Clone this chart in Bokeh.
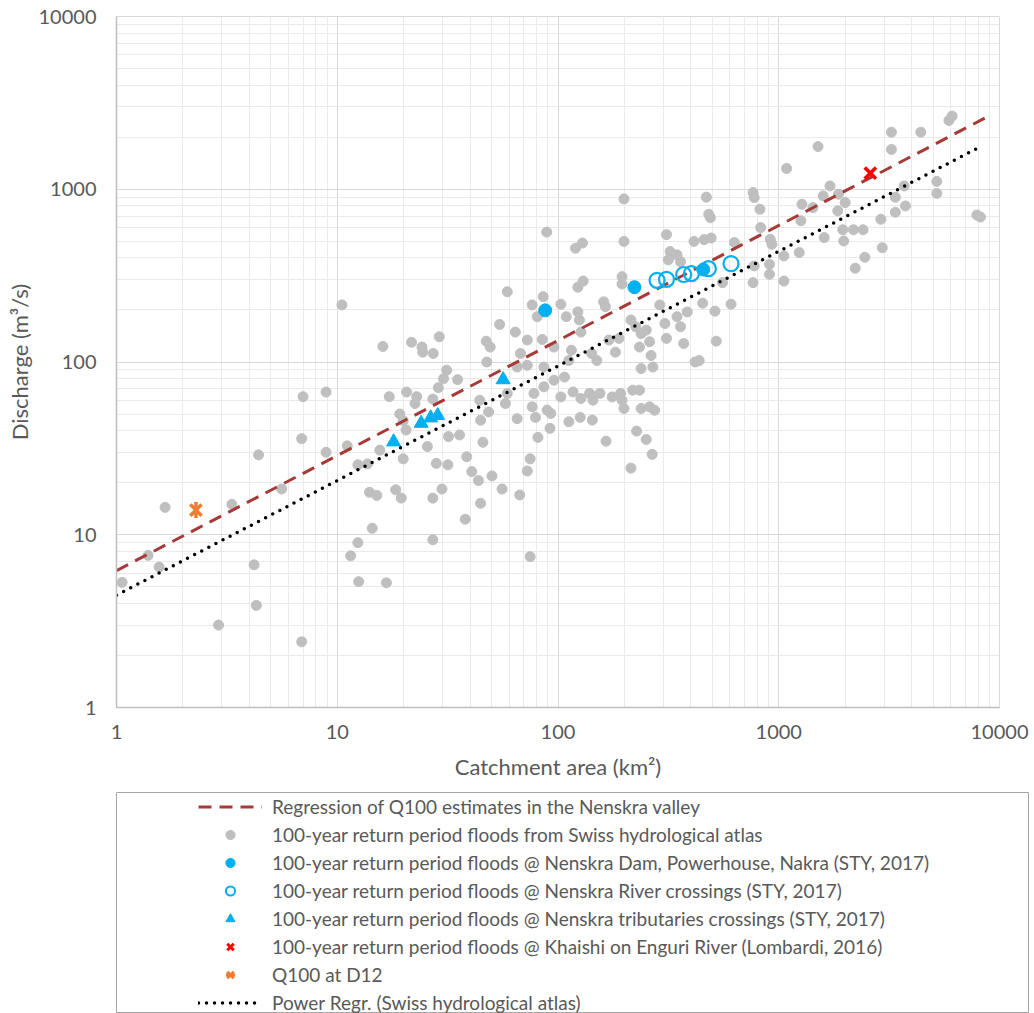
import math
from bokeh.plotting import figure
from bokeh.models import FixedTicker, Legend, LegendItem, Range1d
from bokeh.layouts import column, row
from bokeh.embed import file_html
from bokeh.resources import INLINE

# ---------------- data ----------------
# 100-year floods from Swiss hydrological atlas: (catchment km2, Q m3/s)
atlas_small = [
    (7.0, 63), (8.9, 67), (6.9, 36), (8.9, 30), (4.4, 29), (5.6, 18.4), (1.66, 14.4), (3.33, 15.0),
    (1.39, 7.6), (1.56, 6.5), (1.06, 5.3), (4.2, 6.7), (4.3, 3.9), (2.9, 3.0), (6.9, 2.4),
    (10.5, 214), (16.1, 123), (21.7, 130), (24.2, 122), (24.4, 114), (27.2, 112), (29.0, 140),
    (58.9, 255), (54.4, 165), (64.1, 149), (47.3, 132), (49.3, 122), (47.6, 100), (65.3, 93.5),
    (31.3, 89.6), (30.3, 80), (35.1, 79), (28.7, 71), (20.6, 67), (22.9, 63), (17.2, 63),
    (22.5, 57.5), (27.1, 61), (19.2, 50), (19.9, 45.7), (20.5, 40.4), (44.2, 60), (48.5, 51.4),
    (57.8, 57.5), (65.3, 47), (44.6, 46), (31.9, 37), (35.8, 37.8), (45.7, 34.3), (25.6, 32.4),
    (11.1, 32.7), (15.6, 30.9), (12.4, 25.4), (13.7, 25.7), (19.9, 27.5), (28.1, 25.9), (31.7, 25.4),
    (38.6, 28.3), (40.7, 23.2), (43.6, 20.6), (50.2, 21.9), (55.8, 18.4), (67.1, 17.0), (14.0, 17.6),
    (15.1, 16.9), (18.4, 18.2), (19.5, 16.3), (27.1, 16.3), (29.8, 18.4), (44.6, 15.2), (38.0, 12.3),
    (14.4, 10.9), (12.4, 9.0), (27.1, 9.35), (11.5, 7.55), (12.5, 5.35), (16.7, 5.27), (58.9, 65.8),
    (88.9, 565), (85.7, 239), (76.4, 214), (80.5, 183), (72.6, 134), (84.9, 135), (95.9, 122),
    (67.6, 112), (72.6, 95.7), (86.3, 93.5), (95.9, 78.4), (86.3, 71.8), (77.8, 65.8), (76.4, 55),
    (89.3, 52.6), (92.7, 50.4), (79.1, 47.8), (92.0, 41.3), (81.1, 36.6), (74.8, 27.5), (72.6, 23.4),
    (74.8, 7.47),
]
atlas_mid = [
    (199, 879), (470, 900), (310, 546), (129, 488), (120, 456), (199, 499), (413, 499), (459, 511),
    (494, 522), (322, 436), (346, 417), (359, 381), (316, 390), (130, 294), (123, 271), (195, 312),
    (195, 283), (103, 216), (123, 195), (125, 175), (127, 149), (109, 183), (115, 117), (112, 102),
    (142, 112), (150, 102), (161, 223), (164, 209), (170, 134), (182, 114), (189, 137), (214, 175),
    (225, 160), (238, 146), (251, 153), (260, 131), (234, 122), (264, 109), (289, 214), (305, 167),
    (310, 137), (346, 183), (359, 160), (385, 195), (371, 128), (436, 102), (452, 219), (238, 91.6),
    (269, 93.5), (107, 81.8), (103, 62.8), (117, 67.1), (127, 61.5), (139, 65.8), (155, 65.8),
    (176, 62.8), (192, 65.8), (218, 68.7), (234, 68.7), (274, 52.6), (112, 45.1), (126, 47.8),
    (143, 46.1), (165, 34.8), (227, 39.8), (251, 35.6), (267, 29.2), (214, 24.3), (144, 60.1),
    (195, 60.1), (199, 53.8), (238, 53.8), (260, 55), (418, 100),
    (822, 766), (765, 957), (774, 895), (828, 600), (630, 491), (774, 360), (908, 368), (908, 322),
    (765, 288), (482, 716), (490, 685), (556, 288), (608, 216), (514, 197), (521, 132), (915, 513),
    (931, 480),
]
atlas_large = [
    (1085, 1318), (1506, 1767), (1707, 1045), (1590, 915), (1864, 936), (2000, 837), (1850, 750),
    (1274, 819), (1428, 783), (1260, 657), (1606, 525), (1968, 502), (1950, 583), (2180, 583),
    (2410, 583), (1238, 430), (1055, 411), (1055, 294), (5900, 2500), (6100, 2650), (3240, 2140),
    (4400, 2140), (3240, 1700), (5200, 1110), (5200, 946), (3700, 1045), (3375, 899), (3750, 800),
    (3375, 736), (2900, 670), (2945, 459), (2455, 404), (2220, 349), (7900, 709), (8200, 690),
]
atlas_all = atlas_small + atlas_mid + atlas_large
atlas_area = [a for a, q in atlas_all]
atlas_q = [q for a, q in atlas_all]

# Nenskra Dam, Powerhouse, Nakra (STY, 2017)
dam_area = [87.5, 222, 455]
dam_q = [199, 271, 343]
# Nenskra River crossings (STY, 2017)
river_area = [281, 310, 371, 402, 480, 608]
river_q = [297, 301, 321, 325, 347, 371]
# Nenskra tributaries crossings (STY, 2017)
trib_area = [18.0, 24.0, 26.5, 28.5, 56.4]
trib_q = [34.5, 44.2, 47.5, 49.0, 79.0]
# Khaishi on Enguri River (Lombardi, 2016)
khaishi_area = [2600]
khaishi_q = [1240]
# Q100 at D12
d12_area = [2.29]
d12_q = [13.9]
# trend lines (end points)
nenskra_reg_area = [1, 8830]
nenskra_reg_q = [6.2, 2630]
swiss_reg_area = [1, 7850]
swiss_reg_q = [4.47, 1714]

# axis ticks
x_ticks = [1, 10, 100, 1000, 10000]
x_tick_labels = ["1", "10", "100", "1000", "10000"]
y_ticks = [1, 10, 100, 1000, 10000]
y_tick_labels = ["1", "10", "100", "1000", "10000"]
minor_mult = [2, 3, 4, 5, 6, 7, 8, 9]
minor_ticks = [m * d for d in [1, 10, 100, 1000] for m in minor_mult]

legend_labels = [
    "Regression of Q100 estimates in the Nenskra valley",
    "100-year return period floods from Swiss hydrological atlas",
    "100-year return period floods @ Nenskra Dam, Powerhouse, Nakra (STY, 2017)",
    "100-year return period floods @ Nenskra River crossings (STY, 2017)",
    "100-year return period floods @ Nenskra tributaries crossings (STY, 2017)",
    "100-year return period floods @ Khaishi on Enguri River (Lombardi, 2016)",
    "Q100 at D12",
    "Power Regr. (Swiss hydrological atlas)",
]

# ---------------- styles ----------------
FONT = "Lato"
TXT = "#595959"
GRAY = "#BFBFBF"
BLUE = "#00B0F0"
RED = "#FF0000"
ORANGE = "#ED7D31"
BROWN = "#A63A37"

styles = {
    "reg": dict(line_color=BROWN, line_width=3, line_dash="13 8"),
    "pow": dict(line_color="black", line_width=3.5, line_dash="0 8", line_cap="round"),
    "atlas": dict(marker="circle", size=10, fill_color=GRAY, line_color=GRAY),
    "dam": dict(marker="circle", size=13, fill_color=BLUE, line_color=BLUE),
    "river": dict(marker="circle", size=15, fill_color=None, line_color=BLUE, line_width=2.2),
    "trib": dict(marker="triangle", size=14, fill_color=BLUE, line_color=BLUE),
    "khaishi": dict(marker="x", size=16, line_color=RED, line_width=3.5),
    "d12x": dict(marker="x", size=16, line_color=ORANGE, line_width=3.5),
    "d12v": dict(marker="dash", size=16, line_color=ORANGE, line_width=3.5, angle=math.pi / 2),
}

W = 1034

# ---------------- main plot ----------------
p = figure(width=W, height=791, x_axis_type="log", y_axis_type="log",
           x_range=Range1d(1, 10000), y_range=Range1d(1, 10000),
           output_backend="svg", toolbar_location=None,
           min_border_left=116, min_border_right=35, min_border_top=16, min_border_bottom=84)
p.outline_line_color = "#D9D9D9"
p.background_fill_color = "white"

for ax, ticks, labels in ((p.xaxis[0], x_ticks, x_tick_labels), (p.yaxis[0], y_ticks, y_tick_labels)):
    ax.ticker = FixedTicker(ticks=ticks, minor_ticks=minor_ticks)
    ax.major_label_overrides = {t: l for t, l in zip(ticks, labels)}
    ax.major_tick_line_color = None
    ax.minor_tick_line_color = None
    ax.major_tick_out = 0
    ax.major_tick_in = 0
    ax.minor_tick_out = 0
    ax.minor_tick_in = 0
    ax.axis_line_color = "#BFBFBF"
    ax.axis_line_width = 1.5
    ax.major_label_text_font = FONT
    ax.major_label_text_font_size = "20px"
    ax.major_label_text_color = TXT
    ax.axis_label_text_font = FONT
    ax.axis_label_text_font_size = "22px"
    ax.axis_label_text_font_style = "normal"
    ax.axis_label_text_color = TXT

p.xaxis.axis_label = "Catchment area (km²)"
p.yaxis.axis_label = "Discharge (m³/s)"
p.xaxis.major_label_standoff = 17
p.xaxis.axis_label_standoff = 11
p.yaxis.major_label_standoff = 20
p.yaxis.axis_label_standoff = 3

for g in (p.xgrid[0], p.ygrid[0]):
    g.grid_line_color = "#D9D9D9"
    g.grid_line_width = 1
    g.minor_grid_line_color = "#EAEAEA"
    g.minor_grid_line_width = 1

p.scatter(atlas_area, atlas_q, **styles["atlas"])
p.line(nenskra_reg_area, nenskra_reg_q, **styles["reg"])
p.line(swiss_reg_area, swiss_reg_q, **styles["pow"])
p.scatter(dam_area, dam_q, **styles["dam"])
p.scatter(river_area, river_q, **styles["river"])
p.scatter(trib_area, trib_q, **styles["trib"])
p.scatter(khaishi_area, khaishi_q, **styles["khaishi"])
p.scatter(d12_area, d12_q, **styles["d12x"])
p.scatter(d12_area, d12_q, **styles["d12v"])

# ---------------- legend panel ----------------
# the legend's renderers reuse the real series; the panel's ranges keep them off-screen
p2 = figure(width=W, height=222, x_range=Range1d(-2, -1), y_range=Range1d(-2, -1),
            output_backend="svg", toolbar_location=None,
            x_axis_location=None, y_axis_location=None,
            min_border_left=116, min_border_right=6, min_border_top=1, min_border_bottom=0)
p2.grid.visible = False
p2.outline_line_color = "#A6A6A6"
p2.outline_line_width = 1

r_reg = p2.line(nenskra_reg_area, nenskra_reg_q, **styles["reg"])
r_atlas = p2.scatter(atlas_area, atlas_q, **styles["atlas"])
r_dam = p2.scatter(dam_area, dam_q, **styles["dam"])
r_river = p2.scatter(river_area, river_q, **{**styles["river"], "line_width": 2})
r_trib = p2.scatter(trib_area, trib_q, **styles["trib"])
r_kh = p2.scatter(khaishi_area, khaishi_q, **{**styles["khaishi"], "line_width": 3})
r_d12x = p2.scatter(d12_area, d12_q, **{**styles["d12x"], "line_width": 3})
r_d12v = p2.scatter(d12_area, d12_q, **{**styles["d12v"], "line_width": 3})
r_pow = p2.line(swiss_reg_area, swiss_reg_q, **styles["pow"])

item_renderers = [[r_reg], [r_atlas], [r_dam], [r_river], [r_trib], [r_kh], [r_d12x, r_d12v], [r_pow]]
legend = Legend(items=[LegendItem(label=l, renderers=r) for l, r in zip(legend_labels, item_renderers)],
                location=(82, -1), orientation="vertical", padding=0, margin=0, spacing=5,
                glyph_width=64, glyph_height=23, label_height=23, label_standoff=10,
                border_line_color=None, background_fill_alpha=0,
                label_text_font=FONT, label_text_font_size="19px", label_text_color=TXT)
p2.add_layout(legend)

layout = column(p, row(p2, spacing=0), spacing=0)
open("out.html", "w").write(file_html(layout, INLINE))
